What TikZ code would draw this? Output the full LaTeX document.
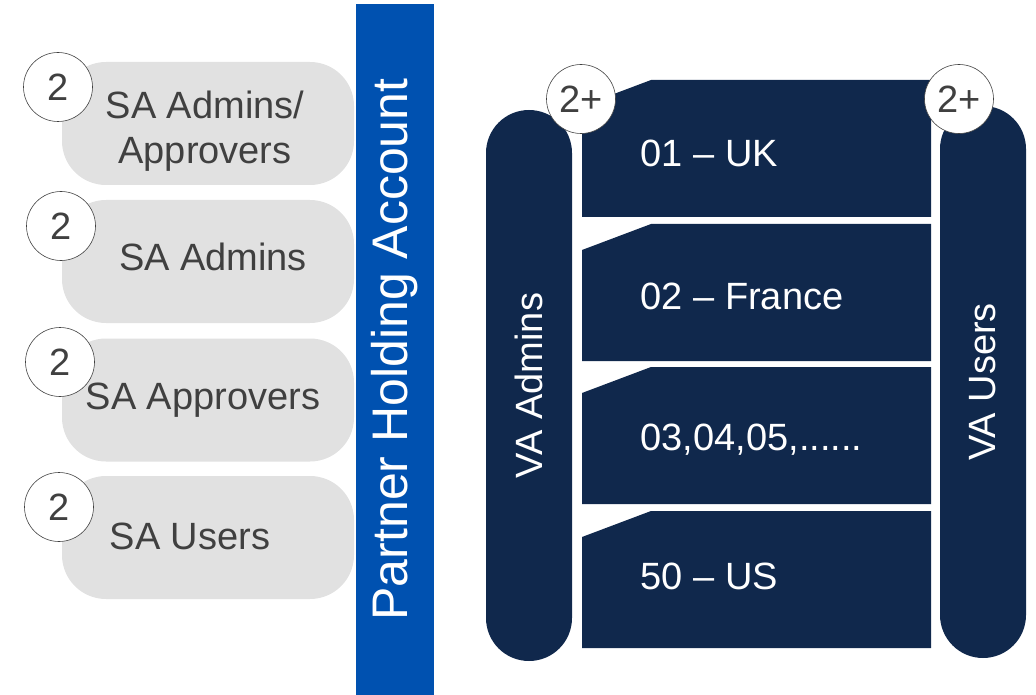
\documentclass[tikz,border=0pt]{standalone}
\usepackage{fontspec}
\setmainfont{Liberation Sans}
\usetikzlibrary{positioning}

\definecolor{pillgray}{RGB}{225,225,225}
\definecolor{partnerblue}{RGB}{0,81,176}
\definecolor{vanavy}{RGB}{16,40,76}
\definecolor{labelgray}{RGB}{64,64,64}

\begin{document}
\begin{tikzpicture}[
    x=1pt, y=-1pt,
    font=\fontsize{38}{45}\selectfont,
    pill/.style={fill=pillgray, rounded corners=44pt, minimum width=292pt, minimum height=123pt, inner sep=0pt},
    pilltext/.style={text=labelgray, align=center},
    badge/.style={circle, draw=labelgray, line width=0.6pt, fill=white, minimum size=69pt, inner sep=0pt, text=labelgray},
    vabar/.style={fill=vanavy, rounded corners=43pt, rotate=90, minimum height=86pt, inner sep=0pt, text=white},
    account/.style={fill=partnerblue, rotate=90, minimum width=691pt, minimum height=78pt, inner sep=0pt, text=white, font=\fontsize{50}{56}\selectfont},
    vatext/.style={text=white, anchor=west}
]
    \useasboundingbox (0,0) rectangle (1036,695);

    % SA roles
    \node[pill] (sa1) at (208,123.5) {};
    \node[pill] (sa2) at (208,261.5) {};
    \node[pill] (sa3) at (208,400) {};
    \node[pill] (sa4) at (208,537.5) {};
    \node[pilltext] (sa1txt) at (205,131) {SA Admins/\\Approvers};
    \node[pilltext] (sa2txt) at (213,257) {SA Admins};
    \node[pilltext] (sa3txt) at (203,400) {SA Approvers};
    \node[pilltext] (sa4txt) at (190,536) {SA Users};

    % counts
    \node[badge] (n1) at (58,87) {2};
    \node[badge] (n2) at (61,226) {2};
    \node[badge] (n3) at (60,362) {2};
    \node[badge] (n4) at (59,507) {2};

    % Holding account
    \node[account] (pha) at (395,349.5) {Partner Holding Account};

    % VA admins / users
    \node[vabar, minimum width=551pt] (vaadm) at (529,385.5) {VA Admins};
    \node[vabar, minimum width=552pt] (vausr) at (983,382) {VA Users};

    % Virtual accounts
    \foreach \i/\top/\ty/\lbl in {1/80/153/01 -- UK, 2/224/296/02 -- France, 3/367/440/{03,04,05,......}, 4/511/576/50 -- US} {
        \fill[vanavy] (582,\top+26) -- (651,\top) -- (931,\top) -- (931,\top+137) -- (582,\top+137) -- cycle;
        \node[vatext] (va\i) at (637,\ty) {\lbl};
    }

    \node[badge] (nadm) at (581,99) {2+};
    \node[badge] (nusr) at (959,99) {2+};

\end{tikzpicture}
\end{document}
